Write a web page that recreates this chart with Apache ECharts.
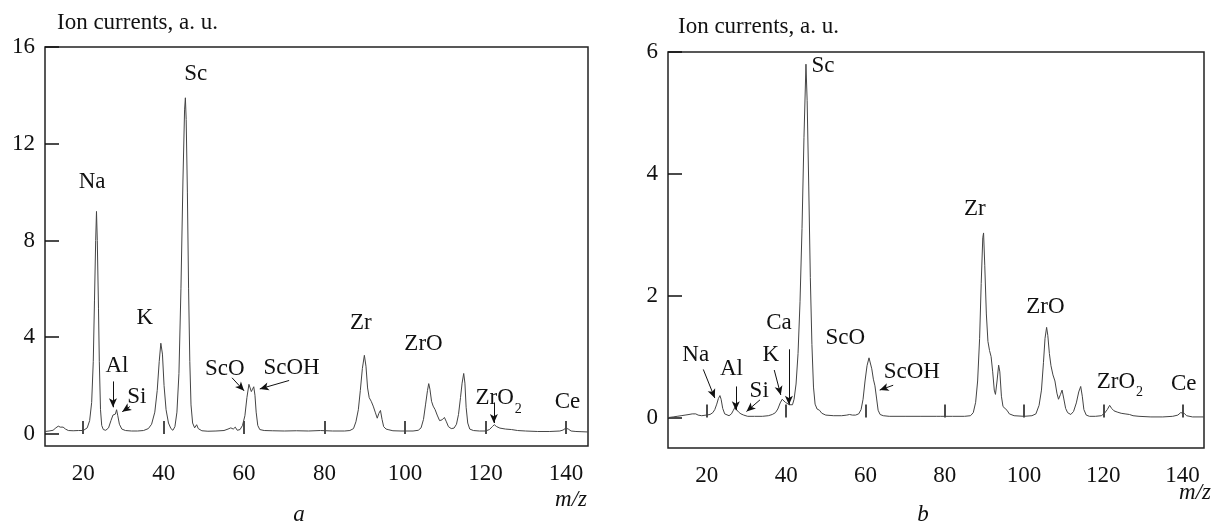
<!DOCTYPE html>
<html>
<head>
<meta charset="utf-8">
<script src="https://cdn.jsdelivr.net/npm/echarts@6/dist/echarts.min.js"></script>
<style>
  html, body { margin: 0; padding: 0; background: #fff; }
  #chart { width: 1215px; height: 525px; }
</style>
</head>
<body>
<div id="chart"></div>
<script>
// panel a
var mzA = [10.5, 11.5, 12.5, 13.2, 13.8, 14.3, 15.0, 15.6, 16.3, 17.5, 18.8, 20.0, 21.0, 21.6, 22.1, 22.5, 22.8, 23.1, 23.3, 23.5, 23.8, 24.0, 24.3, 24.6, 25.0, 25.6, 26.3, 26.9, 27.4, 27.7, 28.0, 28.3, 28.6, 29.0, 29.6, 30.5, 32.0, 33.5, 35.0, 36.2, 37.0, 37.8, 38.4, 38.9, 39.3, 39.7, 40.1, 40.6, 41.2, 41.8, 42.3, 42.8, 43.3, 43.8, 44.3, 44.8, 45.2, 45.4, 45.6, 45.9, 46.2, 46.5, 46.8, 47.2, 47.7, 48.2, 48.6, 49.5, 51.0, 53.0, 55.0, 56.0, 56.7, 57.3, 57.8, 58.3, 59.0, 59.6, 60.2, 60.7, 61.2, 61.5, 61.8, 62.1, 62.4, 62.7, 63.0, 63.4, 63.9, 65.0, 67.0, 70.0, 73.0, 76.0, 79.0, 82.0, 85.0, 86.3, 87.2, 87.8, 88.4, 88.9, 89.4, 89.9, 90.3, 90.7, 91.1, 91.6, 92.1, 92.6, 93.1, 93.5, 93.9, 94.3, 94.7, 95.3, 96.0, 97.0, 99.0, 102.0, 103.3, 104.0, 104.6, 105.1, 105.6, 105.9, 106.2, 106.6, 107.0, 107.5, 108.0, 108.6, 109.2, 109.8, 110.3, 110.8, 111.5, 112.2, 112.8, 113.3, 113.8, 114.2, 114.6, 114.9, 115.2, 115.6, 116.1, 117.0, 118.5, 120.0, 121.0, 121.7, 122.2, 122.8, 123.6, 125.0, 126.5, 128.0, 130.0, 133.0, 136.0, 138.5, 139.3, 140.0, 140.6, 141.3, 142.5, 144.0, 145.5]
var ionA = [0.10, 0.12, 0.15, 0.25, 0.32, 0.28, 0.28, 0.20, 0.14, 0.13, 0.14, 0.14, 0.25, 0.55, 1.3, 3.0, 5.5, 8.0, 9.2, 8.0, 5.2, 3.0, 1.0, 0.35, 0.18, 0.15, 0.25, 0.55, 0.78, 0.70, 0.82, 1.00, 0.75, 0.40, 0.20, 0.14, 0.12, 0.12, 0.14, 0.22, 0.40, 0.90, 1.8, 3.0, 3.75, 3.3, 2.0, 1.0, 0.45, 0.22, 0.15, 0.3, 0.9, 2.5, 6.0, 10.5, 13.4, 13.9, 13.0, 10.0, 6.0, 3.0, 1.2, 0.45, 0.25, 0.38, 0.22, 0.13, 0.11, 0.12, 0.14, 0.20, 0.25, 0.20, 0.28, 0.15, 0.18, 0.35, 0.75, 1.5, 2.05, 1.9, 1.75, 1.85, 1.95, 1.6, 0.9, 0.35, 0.18, 0.14, 0.13, 0.12, 0.13, 0.12, 0.14, 0.12, 0.12, 0.14, 0.22, 0.5, 1.0, 1.8, 2.7, 3.25, 2.8, 1.9, 1.5, 1.35, 1.15, 0.9, 0.65, 0.85, 0.97, 0.6, 0.3, 0.2, 0.17, 0.13, 0.12, 0.12, 0.15, 0.25, 0.6, 1.2, 1.8, 2.08, 1.85, 1.35, 1.15, 1.0, 0.78, 0.55, 0.58, 0.68, 0.5, 0.3, 0.22, 0.24, 0.4, 0.8, 1.5, 2.1, 2.5, 2.1, 1.1, 0.45, 0.2, 0.14, 0.12, 0.12, 0.18, 0.3, 0.38, 0.3, 0.24, 0.2, 0.18, 0.14, 0.12, 0.1, 0.1, 0.12, 0.16, 0.24, 0.2, 0.12, 0.1, 0.09, 0.08]

// panel b
var mzB = [10.3, 11.5, 12.5, 13.5, 14.5, 15.5, 16.3, 16.8, 17.2, 17.8, 18.7, 19.8, 20.8, 21.5, 22.0, 22.5, 22.9, 23.3, 23.6, 24.0, 24.5, 25.0, 25.6, 26.2, 26.7, 27.1, 27.5, 28.0, 28.6, 29.3, 30.3, 32.0, 34.0, 35.5, 36.5, 37.3, 37.9, 38.5, 39.0, 39.4, 39.8, 40.3, 40.8, 41.2, 41.6, 42.0, 42.5, 43.0, 43.5, 44.0, 44.5, 45.0, 45.3, 45.7, 46.1, 46.5, 46.9, 47.3, 47.8, 48.4, 49.0, 50.0, 52.0, 54.0, 55.3, 56.0, 56.7, 57.5, 58.3, 58.9, 59.4, 59.9, 60.4, 60.9, 61.2, 61.6, 62.0, 62.4, 62.8, 63.2, 63.7, 64.5, 66.0, 70.0, 74.0, 78.0, 78.5, 79.0, 82.0, 85.0, 86.5, 87.2, 87.8, 88.3, 88.8, 89.2, 89.6, 89.8, 90.1, 90.5, 90.9, 91.3, 91.7, 92.1, 92.5, 92.8, 93.2, 93.6, 93.9, 94.3, 94.7, 95.2, 95.7, 96.3, 97.5, 100.0, 102.0, 103.0, 103.8, 104.4, 104.9, 105.3, 105.7, 106.0, 106.4, 106.8, 107.3, 107.8, 108.3, 108.7, 109.2, 109.6, 110.0, 110.5, 111.0, 111.8, 112.5, 113.2, 113.8, 114.3, 114.7, 115.1, 115.7, 116.5, 118.0, 119.5, 120.3, 121.0, 121.6, 122.1, 122.7, 123.5, 124.5, 125.5, 126.0, 126.6, 127.5, 129.0, 132.0, 135.0, 137.5, 138.8, 139.5, 139.9, 140.4, 141.0, 142.5, 145.4]
var ionB = [0.00, 0.01, 0.02, 0.03, 0.04, 0.05, 0.06, 0.09, 0.06, 0.04, 0.03, 0.04, 0.05, 0.08, 0.13, 0.22, 0.31, 0.36, 0.30, 0.15, 0.06, 0.03, 0.03, 0.06, 0.12, 0.17, 0.13, 0.09, 0.06, 0.04, 0.02, 0.02, 0.02, 0.03, 0.05, 0.08, 0.14, 0.24, 0.30, 0.29, 0.25, 0.24, 0.21, 0.19, 0.21, 0.30, 0.55, 1.05, 1.9, 3.1, 4.6, 5.8, 5.2, 3.8, 2.3, 1.2, 0.5, 0.22, 0.14, 0.12, 0.07, 0.04, 0.03, 0.03, 0.04, 0.05, 0.04, 0.04, 0.06, 0.13, 0.30, 0.6, 0.85, 0.98, 0.96, 0.80, 0.63, 0.52, 0.32, 0.12, 0.05, 0.03, 0.02, 0.02, 0.02, 0.02, 0.04, 0.02, 0.02, 0.02, 0.03, 0.08, 0.25, 0.6, 1.3, 2.2, 2.95, 3.03, 2.5, 1.7, 1.25, 1.1, 1.0, 0.75, 0.45, 0.38, 0.6, 0.86, 0.75, 0.35, 0.18, 0.16, 0.12, 0.06, 0.03, 0.02, 0.03, 0.06, 0.2, 0.45, 0.9, 1.3, 1.48, 1.35, 1.05, 0.85, 0.7, 0.6, 0.4, 0.3, 0.38, 0.45, 0.32, 0.15, 0.08, 0.05, 0.1, 0.24, 0.42, 0.51, 0.35, 0.13, 0.04, 0.02, 0.02, 0.03, 0.07, 0.13, 0.20, 0.15, 0.11, 0.09, 0.07, 0.06, 0.07, 0.05, 0.03, 0.02, 0.01, 0.01, 0.02, 0.04, 0.08, 0.10, 0.07, 0.03, 0.01, 0.01]

var xTicks = [20, 40, 60, 80, 100, 120, 140]
var yTicksA = [0, 4, 8, 12, 16]
var yTicksB = [0, 2, 4, 6]

// peak names [name, m/z, value] placed in data units
var peaksA = [
  ['Na', 22.2, 10.42], ['Sc', 48.0, 14.9], ['K', 35.3, 4.81], ['Al', 28.4, 2.83], ['Si', 33.35, 1.51],
  ['ScO', 55.2, 2.67], ['ScOH', 71.8, 2.71], ['Zr', 89.0, 4.6], ['ZrO', 104.6, 3.7],
  ['{m|ZrO}{s|2}', 123.3, 1.47], ['Ce', 140.4, 1.33]
]
var peaksB = [
  ['Sc', 49.3, 5.77], ['Na', 17.2, 1.02], ['Al', 26.2, 0.80], ['Si', 33.2, 0.44], ['K', 36.1, 1.02],
  ['Ca', 38.2, 1.55], ['ScO', 54.9, 1.31], ['ScOH', 71.7, 0.75], ['Zr', 87.6, 3.43], ['ZrO', 105.4, 1.82],
  ['{m|ZrO}{s|2}', 124.2, 0.58], ['Ce', 140.3, 0.55]
]
// arrows [x1, y1, x2, y2]
var arrowsA = [
  [27.4, 2.17, 27.4, 1.10], [31.6, 1.13, 29.7, 0.92], [57.0, 2.32, 60.0, 1.78],
  [71.2, 2.21, 63.9, 1.86], [122.1, 1.30, 122.1, 0.45]
]
var arrowsB = [
  [19.1, 0.79, 22.0, 0.32], [27.3, 0.51, 27.3, 0.12], [33.4, 0.29, 30.0, 0.10],
  [37.0, 0.78, 38.65, 0.37], [40.7, 1.12, 40.7, 0.21], [67.0, 0.53, 63.6, 0.45]
]

var FONT = 'Liberation Serif'
var FS = 23
var INK = '#111'

function pairs (xs, ys) {
  return xs.map(function (x, i) { return [x, ys[i]] })
}

function xAxisOf (idx, min, max) {
  return {
    type: 'value', gridIndex: idx, min: min, max: max,
    axisLine: { show: false },
    splitLine: { show: false },
    axisTick: { inside: true, length: 13, customValues: xTicks, lineStyle: { color: INK, width: 1.5 } },
    axisLabel: { customValues: xTicks, margin: 16, color: INK, fontFamily: FONT, fontSize: FS }
  }
}

function yAxisOf (idx, min, max, ticks) {
  return {
    type: 'value', gridIndex: idx, min: min, max: max,
    axisLine: { show: false },
    splitLine: { show: false },
    axisTick: { inside: true, length: 14, customValues: ticks, lineStyle: { color: INK, width: 1.5 } },
    axisLabel: { customValues: ticks, margin: 10, color: INK, fontFamily: FONT, fontSize: FS }
  }
}

function labelSeries (idx, peaks, arrows) {
  return {
    type: 'scatter', xAxisIndex: idx, yAxisIndex: idx, symbolSize: 0, silent: true, z: 5,
    itemStyle: { opacity: 1 },
    data: peaks.map(function (p) { return { name: p[0], value: [p[1], p[2]] } }),
    label: {
      show: true, position: 'inside', color: INK, opacity: 1, fontFamily: FONT, fontSize: FS,
      formatter: function (p) { return p.name },
      rich: {
        m: { fontFamily: FONT, fontSize: FS, lineHeight: FS, color: INK, verticalAlign: 'top' },
        s: { fontFamily: FONT, fontSize: 14, lineHeight: 14, color: INK, verticalAlign: 'top', padding: [15, 0, 0, 1] }
      }
    },
    markLine: {
      silent: true, animation: false,
      symbol: ['none', 'arrow'], symbolSize: [6, 9],
      label: { show: false },
      lineStyle: { color: INK, width: 1, type: 'solid', opacity: 1 },
      data: arrows.map(function (a) { return [{ coord: [a[0], a[1]] }, { coord: [a[2], a[3]] }] })
    }
  }
}

function txt (x, y, s, italic, align) {
  return {
    type: 'text', x: x, y: y,
    style: { text: s, fill: INK, font: (italic ? 'italic ' : '') + FS + 'px "Liberation Serif"', align: align || 'center', verticalAlign: 'middle' }
  }
}

var myChart = echarts.init(document.getElementById('chart'))
var option = {
  animation: false,
  backgroundColor: '#fff',
  grid: [
    { left: 45, top: 47, width: 543, height: 399, show: true, borderColor: '#222', borderWidth: 1.5 },
    { left: 668, top: 52, width: 536, height: 396, show: true, borderColor: '#222', borderWidth: 1.5 }
  ],
  xAxis: [xAxisOf(0, 10.5, 145.5), xAxisOf(1, 10.2, 145.4)],
  yAxis: [yAxisOf(0, -0.5, 16, yTicksA), yAxisOf(1, -0.5, 6, yTicksB)],
  series: [
    {
      type: 'line', xAxisIndex: 0, yAxisIndex: 0, showSymbol: false, silent: true,
      lineStyle: { color: '#444', width: 1 },
      data: pairs(mzA, ionA)
    },
    {
      type: 'line', xAxisIndex: 1, yAxisIndex: 1, showSymbol: false, silent: true,
      lineStyle: { color: '#444', width: 1 },
      data: pairs(mzB, ionB)
    },
    labelSeries(0, peaksA, arrowsA),
    labelSeries(1, peaksB, arrowsB)
  ],
  graphic: [
    txt(57, 23, 'Ion currents, a. u.', false, 'left'),
    txt(678, 27, 'Ion currents, a. u.', false, 'left'),
    txt(571, 500, 'm/z', true),
    txt(1195, 493, 'm/z', true),
    txt(299, 515, 'a', true),
    txt(923, 515, 'b', true)
  ]
}
myChart.setOption(option, true)
</script>
</body>
</html>
